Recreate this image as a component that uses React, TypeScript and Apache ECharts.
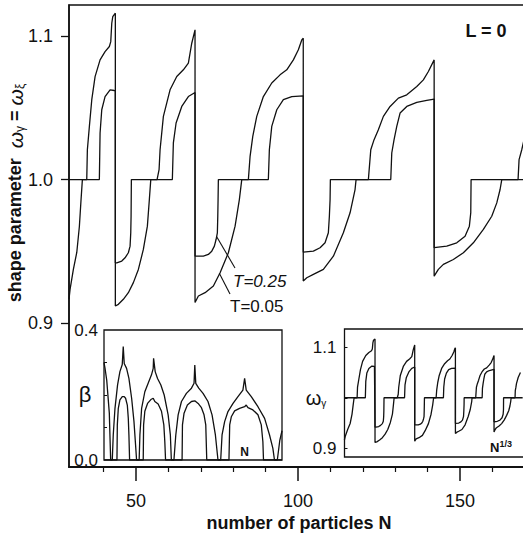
import React, { useEffect, useRef } from 'react';
import * as echarts from 'echarts';

// Main panel: shape parameter vs N (T = 0.05 outer curve, T = 0.25 inner curve)
const mainT005: [number, number][] = [
  [29.3, 0.9167], [29.63, 0.9236], [30.65, 0.9375], [31.7, 0.9493], [32.5, 0.9674], [33.02, 0.9861], [33.43, 1.0],
  [34.78, 1.0], [34.97, 1.0208], [35.59, 1.037], [36.33, 1.0556], [37.35, 1.0717], [38.89, 1.0833], [40.43, 1.0891],
  [41.76, 1.0926], [42.19, 1.096], [42.5, 1.1088], [42.81, 1.1134], [43.6, 1.1158],
  [43.6, 0.912], [44.54, 0.9132], [46.08, 0.9167], [47.62, 0.9213], [49.17, 0.9283], [50.71, 0.9375], [52.25, 0.9514],
  [53.49, 0.9676], [54.1, 0.9861], [54.54, 1.0], [56.48, 1.0], [57.1, 1.0069], [57.41, 1.0208], [58.43, 1.044],
  [60.49, 1.0625], [62.56, 1.0717], [64.6, 1.0764], [66.14, 1.081], [67.19, 1.0949], [68.2, 1.1042],
  [68.2, 0.9145], [69.23, 0.919], [71.3, 0.9213], [73.86, 0.9259], [75.93, 0.9352], [78.49, 0.9491], [80.56, 0.9676],
  [81.88, 0.9861], [82.62, 1.0], [84.66, 1.0], [85.19, 1.0162], [86.02, 1.0301], [87.25, 1.044], [89.29, 1.0578],
  [91.88, 1.0672], [94.44, 1.0729], [96.51, 1.0764], [98.55, 1.0833], [100.09, 1.0903], [101.14, 1.0972], [101.6, 1.0984],
  [101.6, 0.9294], [102.69, 0.9317], [104.72, 0.934], [107.81, 0.9375], [110.9, 0.9467], [113.98, 0.963], [116.05, 0.9769],
  [117.59, 0.9931], [117.9, 1.0], [121.7, 1.0], [122.44, 1.0208], [123.46, 1.0278], [124.78, 1.0347], [126.33, 1.044],
  [128.4, 1.0509], [130.96, 1.0567], [133.55, 1.059], [136.64, 1.0648], [138.67, 1.0694], [140.22, 1.0752], [142.0, 1.0833],
  [142.0, 0.9328], [143.3, 0.9375], [144.85, 0.941], [147.93, 0.9444], [151.02, 0.9491], [154.1, 0.956], [157.19, 0.9653],
  [159.78, 0.9745], [161.33, 0.9838], [162.35, 0.9931], [162.87, 1.0], [167.9, 1.0], [168.21, 1.0139], [169.04, 1.0208],
  [169.75, 1.0278], [172, 1.04], [175, 1.05],
];

const mainT025: [number, number][] = [
  [29.3, 1.0], [38.67, 1.0], [38.89, 1.0324], [39.41, 1.0486], [40.43, 1.0578], [41.98, 1.0625], [43.3, 1.062], [43.6, 1.0618],
  [43.6, 0.9421], [44.04, 0.9421], [45.59, 0.9433], [46.6, 0.9456], [47.62, 0.9491], [48.15, 0.9537], [48.36, 0.963],
  [48.46, 0.9745], [48.55, 1.0], [61.2, 1.0], [61.51, 1.0255], [62.35, 1.0394], [64.1, 1.0509], [66.14, 1.0578], [68.2, 1.0606],
  [68.2, 0.9467], [70.77, 0.9467], [72.31, 0.9479], [73.36, 0.9502], [74.17, 0.9537], [74.69, 0.9583], [75.09, 0.963],
  [75.22, 0.9745], [75.31, 0.9861], [75.4, 1.0], [90.83, 1.0], [91.14, 1.0208], [91.88, 1.037], [93.43, 1.0486],
  [95.46, 1.0556], [98.06, 1.0578], [101.6, 1.0583],
  [101.6, 0.9495], [104.72, 0.9502], [106.79, 0.9526], [108.33, 0.956], [109.35, 0.963], [109.66, 0.9745], [109.88, 0.9861],
  [109.97, 1.0], [128.61, 1.0], [128.92, 1.0185], [129.63, 1.0278], [130.46, 1.037], [131.48, 1.0463], [133.55, 1.0509],
  [136.64, 1.0537], [139.72, 1.0551], [142.0, 1.056],
  [142.0, 0.9526], [145.89, 0.9537], [148.98, 0.956], [151.54, 0.9606], [152.87, 0.9676], [153.3, 0.9769], [153.4, 1.0],
  [178, 1.0],
];

// Inset: deformation beta vs N
const betaT005: [number, number][] = [
  [28.0, 0.3], [28.8, 0.283], [30.2, 0.246], [32.3, 0.145], [33.4, 0],
  [34.7, 0], [35.5, 0.077], [36.9, 0.159], [39.0, 0.231], [40.9, 0.272], [42.8, 0.294], [43.6, 0.349], [44.4, 0.297],
  [46.3, 0.282], [48.2, 0.251], [50.4, 0.19], [52.3, 0.118], [53.6, 0.046], [54.4, 0],
  [56.5, 0], [57.1, 0.077], [58.5, 0.159], [61.1, 0.21], [63.8, 0.236], [66.5, 0.262], [67.9, 0.282], [68.2, 0.313],
  [69.5, 0.272], [71.4, 0.251], [74.1, 0.231], [76.8, 0.2], [80.0, 0.139], [81.8, 0.077], [82.6, 0],
  [84.7, 0], [86.2, 0.077], [88.1, 0.139], [90.8, 0.18], [94.8, 0.205], [98.9, 0.221], [101.0, 0.236], [101.6, 0.292],
  [102.4, 0.236], [104.8, 0.221], [108.3, 0.205], [112.3, 0.18], [115.6, 0.139], [118.3, 0.077], [120.4, 0],
  [122.6, 0], [123.7, 0.077], [125.8, 0.118], [128.5, 0.149], [132.6, 0.174], [136.6, 0.195], [140.6, 0.215], [142.0, 0.251],
  [143.3, 0.215], [147.4, 0.195], [152.8, 0.164], [158.2, 0.128], [162.2, 0.077], [164.9, 0.036], [166.2, 0],
  [168.5, 0], [170.5, 0.06], [172.3, 0.09],
];

const betaT025: [number, number][] = [
  [28.0, 0], [38.5, 0], [38.8, 0.108], [39.6, 0.159], [40.9, 0.185], [42.8, 0.195], [44.4, 0.195], [45.5, 0.19],
  [46.9, 0.169], [47.7, 0.128], [48.2, 0.077], [48.75, 0],
  [59.8, 0], [60.1, 0.108], [61.1, 0.15], [63.3, 0.174], [66.0, 0.186], [67.9, 0.19], [69.2, 0.18], [71.9, 0.172],
  [74.6, 0.15], [76.5, 0.108], [77.3, 0.056], [77.9, 0],
  [91.3, 0], [91.6, 0.108], [92.9, 0.144], [95.6, 0.169], [98.9, 0.18], [101.6, 0.182], [104.3, 0.174], [107.0, 0.161],
  [109.1, 0.139], [110.5, 0.108], [111.3, 0],
  [129.3, 0], [129.9, 0.108], [131.2, 0.133], [133.9, 0.151], [137.9, 0.159], [142.0, 0.164], [143.3, 0.169],
  [144.7, 0.161], [148.7, 0.154], [152.8, 0.139], [155.5, 0.108], [156.8, 0.056], [157.3, 0], [172.3, 0],
];

const mainXLabels = [50, 100, 150];
const mainXMinor = [40, 60, 70, 80, 90, 110, 120, 130, 140, 160, 170];
const mainYLabels = [0.9, 1.0, 1.1];
const mainYMinor = [0.82, 0.84, 0.86, 0.88, 0.92, 0.94, 0.96, 0.98, 1.02, 1.04, 1.06, 1.08, 1.12];
const betaYLabels = [0, 0.4];
const betaYTicks = [0.1, 0.2, 0.3];
const omegaYLabels = [0.9, 1.1];
const omegaYTicks = [0.9, 1.0, 1.1];

const FONT = '"Liberation Sans", Arial, Helvetica, sans-serif';
const INK = '#111';

export default function App() {
  const ref = useRef<HTMLDivElement>(null);

  useEffect(() => {
    const chart = echarts.init(ref.current!, null, { renderer: 'svg' });

    const omegaT005 = mainT005.map(([n, v]) => [Math.cbrt(n), v]);
    const omegaT025 = mainT025.map(([n, v]) => [Math.cbrt(n), v]);

    const curve = (data: number[][], idx: number) => ({
      type: 'line',
      xAxisIndex: idx,
      yAxisIndex: idx,
      data,
      symbol: 'none',
      showSymbol: false,
      silent: true,
      lineStyle: { color: INK, width: 1.3 },
    });

    const noSplit = { show: false };

    chart.setOption({
      animation: false,
      backgroundColor: '#fff',
      textStyle: { fontFamily: FONT },
      grid: [
        { left: 69, top: 5, width: 472.07, height: 462, show: true, borderColor: INK, borderWidth: 1.5, backgroundColor: 'transparent', outerBoundsMode: 'none', containLabel: false },
        { left: 104, top: 330, width: 178, height: 130, show: true, borderColor: INK, borderWidth: 1.3, backgroundColor: '#fff', outerBoundsMode: 'none', containLabel: false },
        { left: 344.5, top: 329, width: 185.5, height: 128, show: true, borderColor: INK, borderWidth: 1.3, backgroundColor: '#fff', outerBoundsMode: 'none', containLabel: false },
      ],
      xAxis: [
        {
          gridIndex: 0, type: 'value', min: 29.3, max: 175, position: 'bottom',
          axisLine: { show: true, onZero: false, lineStyle: { color: INK, width: 2 } },
          axisTick: { show: true, customValues: mainXLabels, length: 14, lineStyle: { color: INK, width: 1.5 } },
          axisLabel: { show: true, customValues: mainXLabels, fontSize: 18, color: INK, margin: 25, fontFamily: FONT },
          splitLine: noSplit,
        },
        { gridIndex: 1, type: 'value', min: 28, max: 172.3, axisLine: { show: false }, axisTick: { show: false }, axisLabel: { show: false }, splitLine: noSplit },
        { gridIndex: 2, type: 'value', min: 3.0844, max: 5.73, axisLine: { show: false }, axisTick: { show: false }, axisLabel: { show: false }, splitLine: noSplit },
        {
          gridIndex: 0, type: 'value', min: 29.3, max: 175, position: 'bottom',
          axisLine: { show: false },
          axisTick: { show: true, customValues: mainXMinor, length: 5, lineStyle: { color: INK, width: 1.2 } },
          axisLabel: { show: false }, splitLine: noSplit,
        },
      ],
      yAxis: [
        {
          gridIndex: 0, type: 'value', min: 0.8, max: 1.1215,
          axisLine: { show: true, onZero: false, lineStyle: { color: INK, width: 1.5 } },
          axisTick: { show: true, customValues: mainYLabels, length: 8, lineStyle: { color: INK, width: 1.3 } },
          axisLabel: { show: true, customValues: mainYLabels, fontSize: 18, color: INK, margin: 16, fontFamily: FONT, formatter: (v: number) => v.toFixed(1) },
          splitLine: noSplit,
        },
        {
          gridIndex: 1, type: 'value', min: 0, max: 0.4,
          axisLine: { show: false },
          axisTick: { show: true, inside: true, customValues: betaYTicks, length: 3, lineStyle: { color: INK, width: 1 } },
          axisLabel: { show: true, customValues: betaYLabels, fontSize: 17, color: INK, margin: 6, fontFamily: FONT, formatter: (v: number) => v.toFixed(1) },
          splitLine: noSplit,
        },
        {
          gridIndex: 2, type: 'value', min: 0.8833, max: 1.1355,
          axisLine: { show: false },
          axisTick: { show: true, inside: true, customValues: omegaYTicks, length: 3, lineStyle: { color: INK, width: 1 } },
          axisLabel: { show: true, customValues: omegaYLabels, fontSize: 17, color: INK, margin: 8, fontFamily: FONT, formatter: (v: number) => v.toFixed(1) },
          splitLine: noSplit,
        },
        {
          gridIndex: 0, type: 'value', min: 0.8, max: 1.1215,
          axisLine: { show: false },
          axisTick: { show: true, customValues: mainYMinor, length: 4, lineStyle: { color: INK, width: 1 } },
          axisLabel: { show: false }, splitLine: noSplit,
        },
      ],
      series: [
        curve(mainT005, 0),
        curve(mainT025, 0),
        curve(betaT005, 1),
        curve(betaT025, 1),
        curve(omegaT005, 2),
        curve(omegaT025, 2),
      ],
      graphic: [
        {
          type: 'text', x: 15, y: 193, rotation: Math.PI / 2, z: 10,
          style: {
            text: '{b|shape parameter  }{w|ω}{s|γ}{b| = }{w|ω}{s|ξ}',
            align: 'center', verticalAlign: 'middle', fill: INK,
            rich: {
              b: { fontFamily: FONT, fontWeight: 'bold', fontSize: 18, lineHeight: 22, fill: INK },
              w: { fontFamily: FONT, fontStyle: 'italic', fontSize: 21, lineHeight: 22, fill: INK },
              s: { fontFamily: FONT, fontSize: 12, lineHeight: 12, verticalAlign: 'bottom', fill: INK },
            },
          },
        },
        {
          type: 'text', x: 299, y: 523, z: 10,
          style: { text: 'number of particles N', font: `bold 18px ${FONT}`, fill: INK, align: 'center', verticalAlign: 'middle' },
        },
        {
          type: 'text', x: 486, y: 31, z: 10,
          style: { text: 'L = 0', font: `bold 18px ${FONT}`, fill: INK, align: 'center', verticalAlign: 'middle' },
        },
        {
          type: 'text', x: 233, y: 281, z: 10,
          style: { text: 'T=0.25', font: `italic 17px ${FONT}`, fill: INK, align: 'left', verticalAlign: 'middle' },
        },
        {
          type: 'text', x: 230, y: 306, z: 10,
          style: { text: 'T=0.05', font: `17px ${FONT}`, fill: INK, align: 'left', verticalAlign: 'middle' },
        },
        { type: 'line', z: 10, shape: { x1: 216.7, y1: 236.7, x2: 235, y2: 268 }, style: { stroke: INK, lineWidth: 1.1 } },
        { type: 'line', z: 10, shape: { x1: 219.3, y1: 273.3, x2: 230, y2: 294 }, style: { stroke: INK, lineWidth: 1.1 } },
        {
          type: 'text', x: 85, y: 394, z: 10,
          style: { text: 'β', font: `22px ${FONT}`, fill: INK, align: 'center', verticalAlign: 'middle' },
        },
        {
          type: 'text', x: 244.5, y: 452, z: 10,
          style: { text: 'N', font: `bold 12px ${FONT}`, fill: INK, align: 'center', verticalAlign: 'middle' },
        },
        {
          type: 'text', x: 316, y: 398, z: 10,
          style: {
            text: '{w|ω}{s|γ}', align: 'center', verticalAlign: 'middle', fill: INK,
            rich: {
              w: { fontFamily: FONT, fontSize: 20, lineHeight: 20, fill: INK },
              s: { fontFamily: FONT, fontSize: 10, lineHeight: 10, verticalAlign: 'bottom', fill: INK },
            },
          },
        },
        {
          type: 'text', x: 501, y: 447, z: 10,
          style: {
            text: '{n|N}{p|1/3}', align: 'center', verticalAlign: 'middle', fill: INK,
            rich: {
              n: { fontFamily: FONT, fontWeight: 'bold', fontSize: 13, lineHeight: 15, fill: INK },
              p: { fontFamily: FONT, fontWeight: 'bold', fontSize: 9, lineHeight: 9, verticalAlign: 'top', fill: INK },
            },
          },
        },
      ],
    });

    return () => chart.dispose();
  }, []);

  return (
    <div
      ref={ref}
      style={{ position: 'fixed', left: 0, top: 0, width: 523, height: 537, background: '#fff', overflow: 'hidden' }}
    />
  );
}
